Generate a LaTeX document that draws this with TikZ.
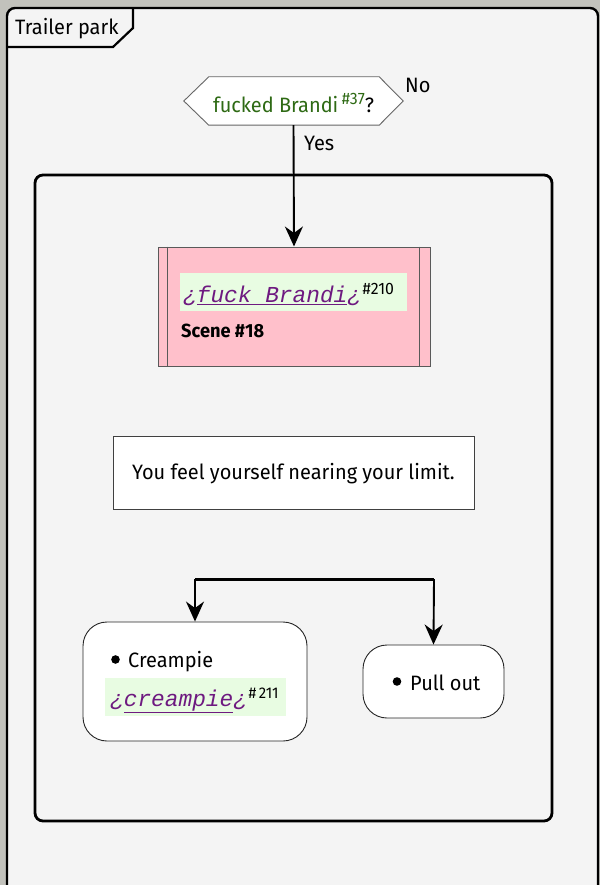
\documentclass[tikz,border=0pt]{standalone}
\usepackage{fontspec}
\setmainfont{Fira Sans}[FakeStretch=0.96]
\setmonofont{Liberation Mono}
\usetikzlibrary{arrows.meta}
\definecolor{outside}{HTML}{C2C2BC}
\definecolor{bggray}{HTML}{F4F4F4}
\definecolor{pinkbox}{HTML}{FFC0CB}
\definecolor{hlgreen}{HTML}{E8FCE2}
\definecolor{dgreen}{HTML}{2E6A14}
\definecolor{purp}{HTML}{6E1A80}
\newcommand{\supnum}[2][16.5]{\raisebox{8.5pt}{\fontsize{#1}{#1}\selectfont #2}}
\newcommand{\monolink}[1]{{\color{purp}\ttfamily\itshape\fontsize{22.8}{24}\selectfont ¿\underline{#1}¿}}
\tikzset{
  mainfont/.style={font=\fontsize{20.8}{24}\selectfont},
  framestyle/.style={line width=2.4pt, draw=black, rounded corners=8pt},
  groupstyle/.style={line width=2.8pt, draw=black, rounded corners=8pt},
  hexstyle/.style={draw=black!60, fill=white, line width=0.9pt},
  scenebox/.style={draw=black!65, fill=pinkbox, line width=1pt, inner sep=0pt},
  plainbox/.style={draw=black!75, fill=white, line width=0.9pt, inner sep=0pt, mainfont},
  choice/.style={draw=black!85, fill=white, line width=0.9pt, rounded corners=24pt, inner sep=0pt},
  hlbox/.style={fill=hlgreen, inner sep=0pt, anchor=north west},
  txt/.style={inner sep=0pt, mainfont},
  flow/.style={line width=1.9pt, -{Stealth[length=20pt,width=18pt,inset=6.5pt]}},
  forkbar/.style={line width=3pt},
}
\begin{document}
\begin{tikzpicture}[x=1pt,y=-1pt]
\fill[outside] (0,0) rectangle (600,885);
\useasboundingbox (0,0) rectangle (600,885);
% outer frame
\fill[bggray, rounded corners=8pt] (7,900) -- (7,8) -- (598,8) -- (598,900) -- cycle;
\draw[framestyle] (7,900) -- (7,8) -- (598,8) -- (598,900);
\draw[line width=2.2pt, line join=miter] (7,47) -- (113,47) -- (133,28) -- (133,8);
\node[txt, anchor=base west] (title) at (15,35) {Trailer park};
% inner group frame
\draw[groupstyle] (35,175) rectangle (552,821);
% decision
\node[inner sep=0pt, minimum width=219pt, minimum height=48pt] (dec) at (293.5,101) {};
\draw[hexstyle] (dec.west) -- ([xshift=25pt]dec.north west) -- ([xshift=-24pt]dec.north east) -- (dec.east)
  -- ([xshift=-24pt]dec.south east) -- ([xshift=25pt]dec.south west) -- cycle;
\node[inner sep=0pt, text height=24pt, text depth=0pt, mainfont] (dectext) at (dec.center)
  {{\color{dgreen}fucked Brandi\,\supnum{\#37}}?};
\node[txt, anchor=base west] (no) at (405,93) {No};
\node[txt, anchor=base west] (yes) at (304,150.5) {Yes};
% scene
\node[scenebox, minimum width=272pt, minimum height=119pt] (scene) at (294,306.5) {};
\draw[draw=black!65, line width=1pt] ([xshift=10pt]scene.north west) -- ([xshift=10pt]scene.south west);
\draw[draw=black!65, line width=1pt] ([xshift=-11pt]scene.north east) -- ([xshift=-11pt]scene.south east);
\node[hlbox, minimum width=227pt, minimum height=38pt] (hl1) at (180,273) {};
\node[inner sep=0pt, anchor=base west] (fb) at (183,302.5) {\monolink{fuck Brandi}\,\supnum{\#210}};
\node[inner sep=0pt, anchor=base west, font=\fontsize{19}{22}\selectfont\bfseries] (scn) at (181,337) {Scene \#18};
\draw[flow] (dec.south) -- (scene.north);
% message
\node[plainbox, minimum width=361pt, minimum height=73pt, text height=15pt, text depth=2pt] (msg) at (293.5,472.5)
  {You feel yourself nearing your limit.};
% choices
\node[choice, minimum width=224pt, minimum height=119pt] (cream) at (195,681.5) {};
\node[choice, minimum width=141pt, minimum height=73pt] (pull) at (433.5,681.5) {};
\fill (115.5,659.5) circle (4.3pt);
\node[txt, anchor=base west] (creamlbl) at (128,667) {Creampie};
\node[hlbox, minimum width=181pt, minimum height=38pt] (hl2) at (105,678) {};
\node[inner sep=0pt, anchor=base west] (cp) at (110,706.5) {\monolink{creampie}\,\supnum[15.5]{\#\,211}};
\fill (397,681.5) circle (4.3pt);
\node[txt, anchor=base west] (pulllbl) at (410,690) {Pull out};
% fork
\coordinate (fl) at (195,579);
\coordinate (fr) at (434,579);
\draw[forkbar] (fl) -- (fr);
\draw[flow] (fl) -- (cream.north);
\draw[flow] (fr) -- (pull.north);
\end{tikzpicture}
\end{document}
